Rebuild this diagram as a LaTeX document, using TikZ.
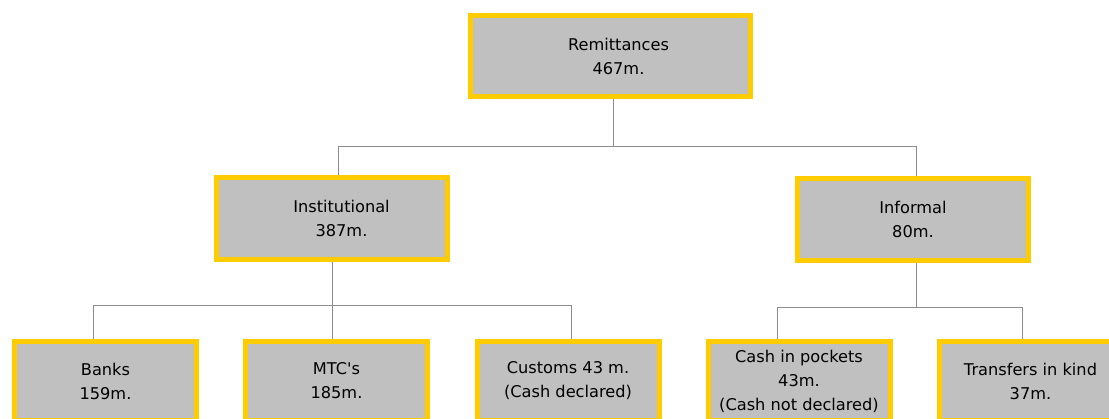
\documentclass[tikz,border=0pt]{standalone}
\usepackage{fontspec}
\setmainfont{DejaVu Sans}
\definecolor{cinza}{HTML}{C0C0C0}
\definecolor{amarelo}{HTML}{FFCC00}
\definecolor{linha}{HTML}{8C8C8C}

\begin{document}
\begin{tikzpicture}[
    x=1pt, y=-1pt,
    every node/.style={font=\fontsize{16.2}{24}\selectfont},
    caixa/.style={draw=amarelo, fill=cinza, line width=5pt, align=center, inner sep=0pt},
    topo/.style={caixa, minimum width=280pt, minimum height=81pt},
    meio/.style={caixa, minimum width=231pt, minimum height=82pt},
    base/.style={caixa, minimum width=182pt, minimum height=79pt},
    ligacao/.style={draw=linha, line width=1pt}
]

\path[use as bounding box] (0,0) rectangle (1109,418);
\clip (0,0) rectangle (1109,418);

% Raiz
\node[topo] (remessas) at (610.5,56) {\hspace*{16pt}Remittances\\\hspace*{16pt}467m.};

% Segundo nivel
\node[meio] (institucional) at (331.5,218.5) {\hspace*{20pt}Institutional\\\hspace*{20pt}387m.};
\node[meio] (informal) at (913,219.5) {Informal\\80m.};

% Terceiro nivel
\node[base] (bancos) at (105.5,381) {Banks\\159m.};
\node[base] (mtc) at (336.5,381) {MTC\textquotesingle s\\185m.};
\node[base] (alfandega) at (568,381) {Customs 43 m.\\(Cash declared)};
\node[base] (bolso) at (799,381) {Cash in pockets\\43m.\\(Cash not declared)};
\node[base] (especie) at (1030.5,381) {Transfers in kind\\37m.};

% Ligacoes da raiz
\coordinate (jr) at (613,146);
\coordinate (ji) at (338,146);
\coordinate (jf) at (916,146);
\draw[ligacao] (jr |- remessas.south) -- (jr);
\draw[ligacao] (ji |- institucional.north) -- (ji) -- (jf) -- (jf |- informal.north);

% Ligacoes institucionais
\coordinate (ki) at (332,305);
\coordinate (kb) at (93,305);
\coordinate (kc) at (571,305);
\draw[ligacao] (ki |- institucional.south) -- (ki);
\draw[ligacao] (kb |- bancos.north) -- (kb) -- (kc) -- (kc |- alfandega.north);
\draw[ligacao] (ki) -- (ki |- mtc.north);

% Ligacoes informais
\coordinate (kf) at (916,307);
\coordinate (kp) at (777,307);
\coordinate (ke) at (1022,307);
\draw[ligacao] (kf |- informal.south) -- (kf);
\draw[ligacao] (kp |- bolso.north) -- (kp) -- (ke) -- (ke |- especie.north);

\end{tikzpicture}
\end{document}
